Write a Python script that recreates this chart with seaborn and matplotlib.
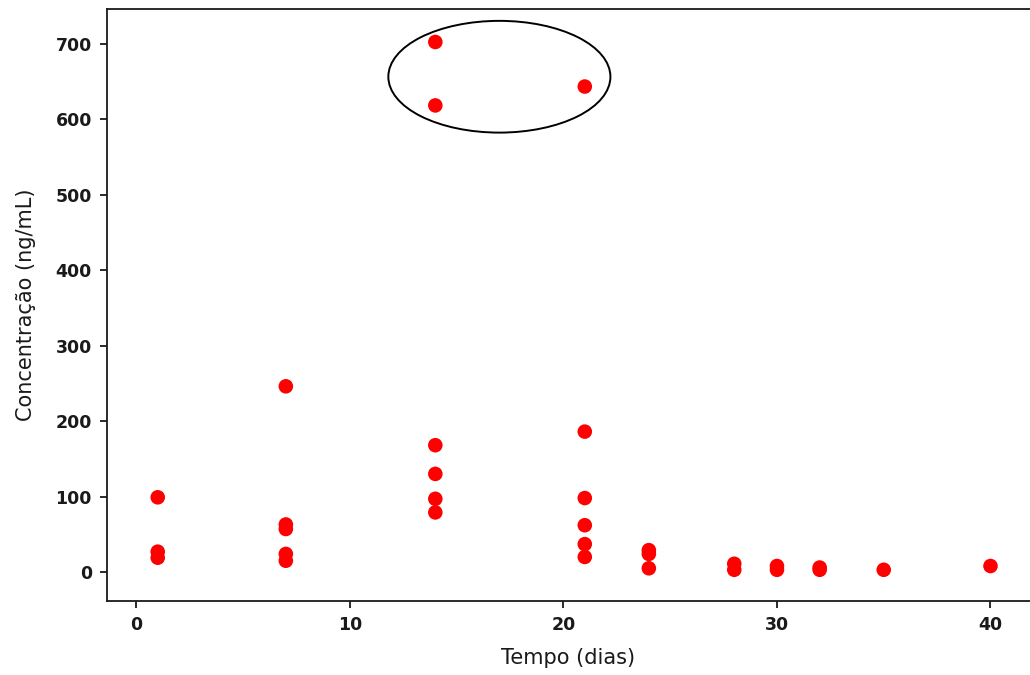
import matplotlib
matplotlib.use('Agg')

import matplotlib.pyplot as plt
from matplotlib.patches import Ellipse
import pandas as pd
import seaborn as sns

# dias de coleta e concentracoes
tempo = [1, 1, 1,
         7, 7, 7, 7, 7,
         14, 14, 14, 14, 14, 14,
         21, 21, 21, 21, 21, 21,
         24, 24, 24,
         28, 28,
         30, 30,
         32, 32,
         35,
         40]
concentracao = [99, 27, 19,
                246, 63, 57, 24, 15,
                702, 618, 168, 130, 97, 79,
                643, 186, 98, 62, 37, 20,
                29, 24, 5,
                11, 3,
                8, 3,
                6, 3,
                3,
                8]

data = pd.DataFrame({'Tempo': tempo, 'Concentracao': concentracao})

sns.set_style('ticks')
plt.rcParams['font.family'] = ['DejaVu Sans']

fig = plt.figure(figsize=(10.3, 6.75), dpi=100)
ax = fig.add_axes([0.104, 0.11, 0.896, 0.877])

sns.scatterplot(data=data, x='Tempo', y='Concentracao', ax=ax,
                color='red', s=110, edgecolor='none', legend=False)

# destaque dos valores altos
ax.add_patch(Ellipse((17.0, 656), 10.4, 148, fill=False,
                     edgecolor='black', linewidth=1.4))

ax.set_xlim(-1.37, 41.85)
ax.set_ylim(-38, 746)
ax.set_xticks([0, 10, 20, 30, 40])
ax.set_yticks([0, 100, 200, 300, 400, 500, 600, 700])
ax.tick_params(labelsize=12.5, length=5, width=1.3, colors='#1a1a1a', pad=6)
for lab in ax.get_xticklabels() + ax.get_yticklabels():
    lab.set_fontweight('semibold')
ax.set_xlabel('Tempo (dias)', fontsize=15, color='#1a1a1a', labelpad=10)
ax.set_ylabel('Concentração (ng/mL)', fontsize=15, color='#1a1a1a', labelpad=14)
ax.spines['right'].set_visible(False)
for sp in ax.spines.values():
    sp.set_linewidth(1.3)
    sp.set_color('#1a1a1a')

fig.savefig('out.png', dpi=100)
